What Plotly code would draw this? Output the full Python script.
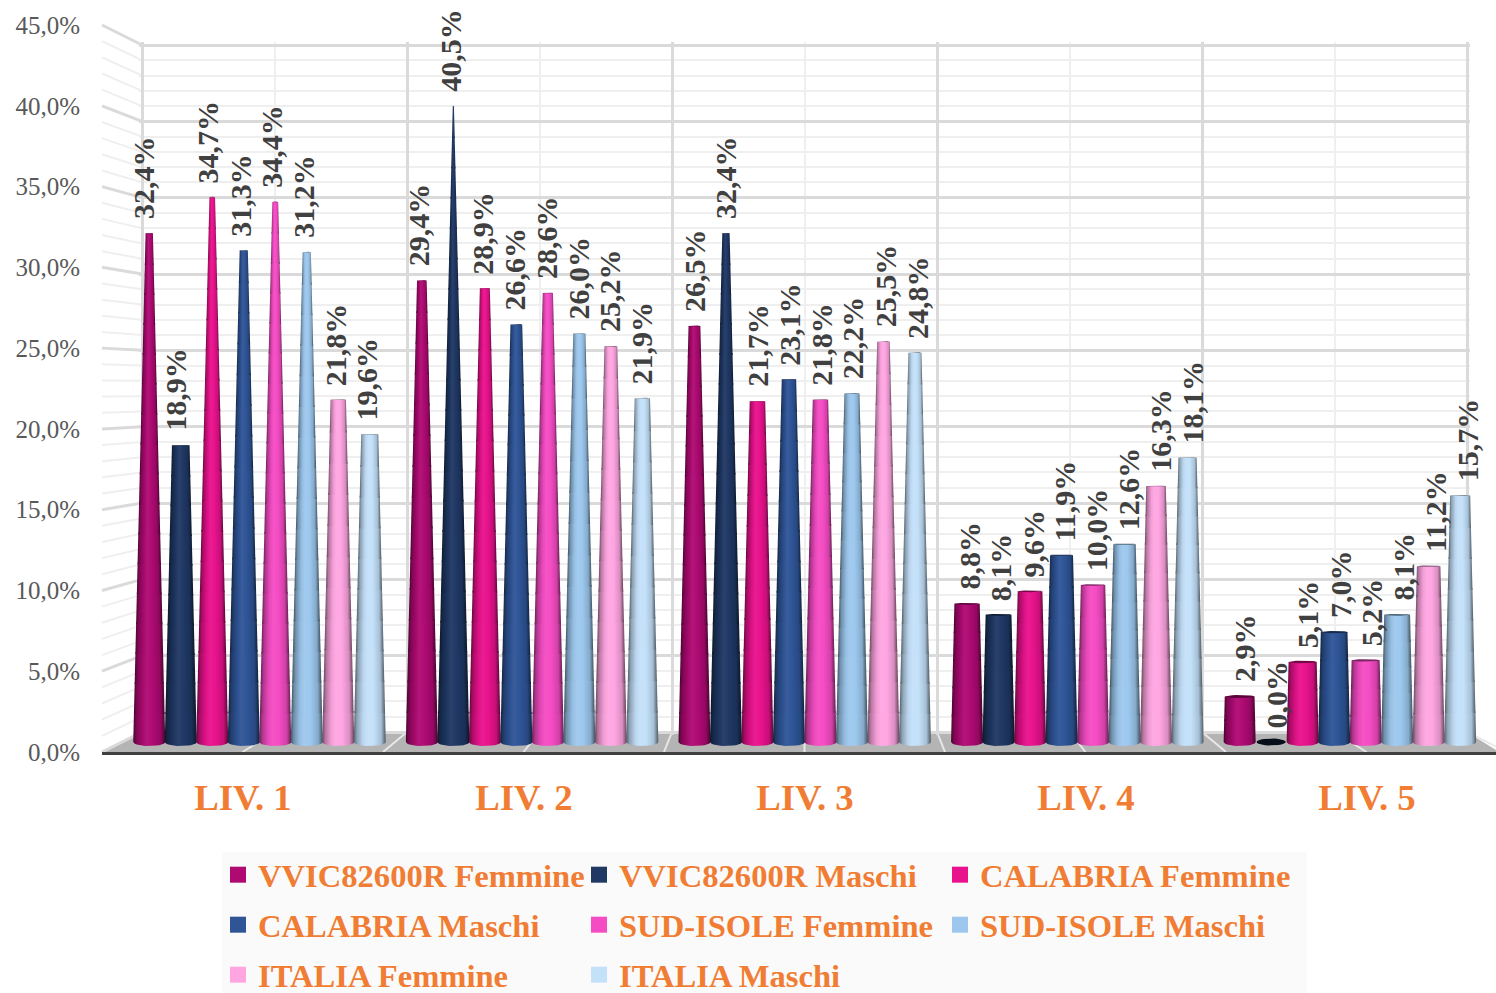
import math
import plotly.graph_objects as go

categories = ["LIV. 1", "LIV. 2", "LIV. 3", "LIV. 4", "LIV. 5"]
vvic_f = [32.4, 29.4, 26.5, 8.8, 2.9]
vvic_m = [18.9, 40.5, 32.4, 8.1, 0.0]
calabria_f = [34.7, 28.9, 21.7, 9.6, 5.1]
calabria_m = [31.3, 26.6, 23.1, 11.9, 7.0]
sud_f = [34.4, 28.6, 21.8, 10.0, 5.2]
sud_m = [31.2, 26.0, 22.2, 12.6, 8.1]
italia_f = [21.8, 25.2, 25.5, 16.3, 11.2]
italia_m = [19.6, 21.9, 24.8, 18.1, 15.7]
series_names = ["VVIC82600R Femmine", "VVIC82600R Maschi", "CALABRIA Femmine", "CALABRIA Maschi",
                "SUD-ISOLE Femmine", "SUD-ISOLE Maschi", "ITALIA Femmine", "ITALIA Maschi"]
series_values = [vvic_f, vvic_m, calabria_f, calabria_m, sud_f, sud_m, italia_f, italia_m]
series_colors = ["#AE0A72", "#1F3864", "#E8128C", "#2F5597", "#F54CC4", "#9DC8EE", "#FFA6E2", "#C4E1FA"]
y_ticks = [0, 5, 10, 15, 20, 25, 30, 35, 40, 45]
y_tick_labels = ["0,0%", "5,0%", "10,0%", "15,0%", "20,0%", "25,0%", "30,0%", "35,0%", "40,0%", "45,0%"]

W, H = 1496, 993
FONT = "Liberation Serif"
ORANGE = "#F07D33"
GRID = "#DADADA"
MINOR = "#EFEFEF"


def pxx(x):
    return x / W


def pxy(y):
    return 1 - y / H


def rgb(c):
    return tuple(int(c[i:i + 2], 16) for i in (1, 3, 5))


def tone(c, f):
    r = rgb(c)
    if f <= 1:
        v = [int(a * f) for a in r]
    else:
        v = [int(a + (255 - a) * (f - 1)) for a in r]
    return "rgb(%d,%d,%d)" % tuple(v)


# scales: pixel size of one data unit in each plane
BAR_PX = 15.7
BAR_Y0 = 742
GROUP_PX = 272.6
GROUP_X0 = 259.5
STEP = 31.5 / GROUP_PX
BASE_W = 16.0 / GROUP_PX      # half base width in x units
TIP = 42.0                    # value at which a cone closes
FRONT_PX = 16.155
FRONT_Y0 = 752
FRONT_X0 = 102
FRONT_GROUP = 281.0
FRONT_LABEL0 = 243
WALL_L, WALL_R, WALL_B, WALL_T = 142, 1467, 732, 45
WALL_PX = (WALL_B - WALL_T) / 45.0
WALL_GROUP = (WALL_R - WALL_L) / 5.0
WALL_PAD = 3                  # px kept round the wall so its edge gridlines are drawn

fig = go.Figure()
# empty traces so that wall and front axes exist
fig.add_trace(go.Scatter(x=[None], y=[None], xaxis="x", yaxis="y", showlegend=False, hoverinfo="skip"))
fig.add_trace(go.Scatter(x=[None], y=[None], xaxis="x2", yaxis="y2", showlegend=False, hoverinfo="skip"))


def half(v):
    return BASE_W * max(1 - v / TIP, 0.0)


annotations = []
for s, (name, vals, col) in enumerate(zip(series_names, series_values, series_colors)):
    scale = [[0, tone(col, 0.42)], [0.10, tone(col, 0.72)], [0.28, tone(col, 0.95)], [0.42, tone(col, 1.05)],
             [0.62, tone(col, 1.0)], [0.86, tone(col, 0.85)], [1, tone(col, 0.4)]]
    for g, v in enumerate(vals):
        cx = g + (s - 3.5) * STEP
        n = max(1, math.ceil(v / 2.0))
        if v > 0:
            for k in range(n):
                lo = v * k / n
                hi = v * (k + 1) / n
                wl, wh = half(lo), half(hi)
                bot = max(lo - 0.12, 0)
                if k == 0:
                    xs = [cx - wl * math.cos(math.pi * t / 14) for t in range(15)]
                    ys = [-(4.0 / BAR_PX) * math.sin(math.pi * t / 14) for t in range(15)]
                else:
                    xs = [cx - half(bot), cx + half(bot)]
                    ys = [bot, bot]
                xs = xs + [cx + wh, cx - wh]
                ys = ys + [hi, hi]
                fig.add_trace(go.Scatter(x=xs, y=ys, xaxis="x3", yaxis="y3", mode="lines", line=dict(width=0),
                                         fill="toself", fillgradient=dict(type="horizontal", colorscale=scale),
                                         showlegend=False, hoverinfo="skip"))
        # top ellipse
        w = half(v)
        b = max(w * GROUP_PX * 0.11 * max(1 - v / 26.0, 0.15), 0.4) / BAR_PX
        ellipse_col = tone(col, 0.5)
        if v <= 0:
            w = 14.5 / GROUP_PX
            b = 3.5 / BAR_PX
            ellipse_col = tone(col, 0.25)
        ex = [cx + w * math.cos(2 * math.pi * t / 24) for t in range(25)]
        ey = [v + b * math.sin(2 * math.pi * t / 24) for t in range(25)]
        fig.add_trace(go.Scatter(x=ex, y=ey, xaxis="x3", yaxis="y3", mode="lines", line=dict(width=0),
                                 fill="toself", fillcolor=ellipse_col, showlegend=False, hoverinfo="skip"))
        # labels drift right of their cones across the chart (perspective of the original)
        drift = -5 + 12 * (cx + 0.4) / 4.8
        annotations.append(dict(x=cx, y=v, xref="x3", yref="y3", yanchor="bottom", xanchor="center",
                                yshift=12, xshift=drift, textangle=-90, showarrow=False,
                                text=("%.1f%%" % v).replace(".", ","),
                                font=dict(family=FONT, size=30, color="#404040", weight="bold")))

# legend: one legend per row
legend_keys = ["legend", "legend", "legend", "legend2", "legend2", "legend2", "legend3", "legend3"]
for name, col, key in zip(series_names, series_colors, legend_keys):
    fig.add_trace(go.Scatter(x=[None], y=[None], xaxis="x3", yaxis="y3", mode="markers", name=name, legend=key,
                             marker=dict(symbol="square", size=17, color=col)))

legend_rows = {"legend": 875, "legend2": 925, "legend3": 975}
legend_cfg = {}
for key, row in legend_rows.items():
    legend_cfg[key] = dict(orientation="h", x=pxx(218), xanchor="left", y=pxy(row), yanchor="middle",
                           entrywidth=316, entrywidthmode="pixels", bgcolor="rgba(0,0,0,0)", borderwidth=0,
                           traceorder="normal", font=dict(family=FONT, size=32.6, color=ORANGE, weight="bold"))

shapes = [dict(type="rect", xref="paper", yref="paper", x0=pxx(222), x1=pxx(1307), y0=pxy(852), y1=pxy(993),
               fillcolor="#FAFAFA", line=dict(width=0), layer="below")]
# floor
shapes.append(dict(type="path", xref="paper", yref="paper", layer="below", fillcolor="#B4B4B4", line=dict(width=0),
                   path="M %f %f L %f %f L %f %f L %f %f L %f %f Z" % (
                       pxx(FRONT_X0), pxy(FRONT_Y0), pxx(W), pxy(FRONT_Y0), pxx(W), pxy(750),
                       pxx(WALL_R), pxy(WALL_B), pxx(WALL_L), pxy(WALL_B))))
# floor dividers, at each half step of the wall
for t in range(0, 11):
    wx = WALL_L + (WALL_R - WALL_L) * t / 10
    fx = FRONT_X0 + (wx - WALL_L) * FRONT_GROUP / WALL_GROUP
    shapes.append(dict(type="line", xref="paper", yref="paper", layer="below", x0=pxx(fx), x1=pxx(wx),
                       y0=pxy(FRONT_Y0), y1=pxy(WALL_B), line=dict(color="#E8E8E8", width=2)))
# side wall
for v in range(0, 46):
    major = v % 5 == 0
    shapes.append(dict(type="line", xref="paper", yref="paper", layer="below",
                       x0=pxx(FRONT_X0), x1=pxx(WALL_L),
                       y0=pxy(FRONT_Y0 - FRONT_PX * v), y1=pxy(WALL_B - WALL_PX * v),
                       line=dict(color=GRID if major else MINOR, width=3 if major else 2)))

fig.update_layout(
    width=W, height=H, autosize=False,
    margin=dict(l=0, r=0, t=0, b=0, autoexpand=False),
    paper_bgcolor="white", plot_bgcolor="rgba(0,0,0,0)",
    font=dict(family=FONT), hovermode=False,
    annotations=annotations, shapes=shapes,
    # back wall
    xaxis=dict(domain=[pxx(WALL_L - WALL_PAD), pxx(WALL_R + WALL_PAD)],
               range=[-WALL_PAD / WALL_GROUP, 5 + WALL_PAD / WALL_GROUP], anchor="y", dtick=1, tick0=0,
               showgrid=True, gridcolor=GRID, gridwidth=3, showticklabels=False, ticks="", zeroline=False,
               minor=dict(dtick=0.5, tick0=0, showgrid=True, gridcolor=MINOR, gridwidth=2), showline=False),
    yaxis=dict(domain=[pxy(WALL_B + WALL_PAD), pxy(WALL_T - WALL_PAD)],
               range=[-WALL_PAD / WALL_PX, 45 + WALL_PAD / WALL_PX], anchor="x", dtick=5, tick0=0,
               showgrid=True, gridcolor=GRID, gridwidth=3, showticklabels=False, ticks="", zeroline=False,
               minor=dict(dtick=1, tick0=0, showgrid=True, gridcolor=MINOR, gridwidth=2), showline=False),
    # front axes: value labels and category labels
    xaxis2=dict(domain=[pxx(FRONT_X0), 1], anchor="y2",
                range=[(FRONT_X0 - FRONT_LABEL0) / FRONT_GROUP, (W - FRONT_LABEL0) / FRONT_GROUP],
                tickmode="array", tickvals=list(range(5)), ticktext=categories, ticks="outside", ticklen=11,
                tickcolor="rgba(0,0,0,0)", showgrid=False, zeroline=False, showline=True,
                linecolor="#404040", linewidth=3,
                tickfont=dict(family=FONT, size=36.8, color=ORANGE, weight="bold")),
    yaxis2=dict(domain=[pxy(FRONT_Y0), 1], anchor="x2", range=[0, FRONT_Y0 / FRONT_PX], tickmode="array",
                tickvals=y_ticks, ticktext=y_tick_labels, ticks="outside", ticklen=16, tickcolor="rgba(0,0,0,0)",
                showgrid=False, zeroline=False, showline=False,
                tickfont=dict(family=FONT, size=25, color="#595959")),
    # cone plane
    xaxis3=dict(domain=[0, 1], anchor="y3", range=[-GROUP_X0 / GROUP_PX, (W - GROUP_X0) / GROUP_PX], visible=False),
    yaxis3=dict(domain=[0, 1], anchor="x3", range=[(BAR_Y0 - H) / BAR_PX, BAR_Y0 / BAR_PX], visible=False),
    **legend_cfg,
)

fig.write_html("out.html", config=dict(displayModeBar=False),
               post_script="document.body.style.margin='0';")
